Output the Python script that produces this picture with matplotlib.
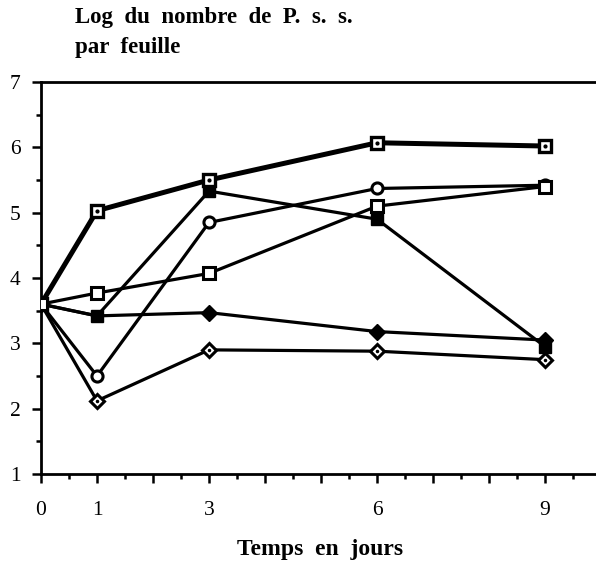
import matplotlib
matplotlib.use("Agg")
import matplotlib.pyplot as plt
import numpy as np

plt.rcParams['font.family'] = ['Liberation Serif', 'DejaVu Serif']

days = [0, 1, 3, 6, 9]
serie_a = [3.6, 5.03, 5.5, 6.07, 6.02]   # thick, dotted square
serie_b = [3.6, 3.42, 5.33, 4.9, 2.95]   # filled square
serie_c = [3.6, 2.5, 4.85, 5.37, 5.42]   # open circle
serie_d = [3.6, 3.77, 4.07, 5.1, 5.4]    # open square
serie_e = [3.6, 3.42, 3.47, 3.18, 3.05]  # filled diamond
serie_f = [3.6, 2.12, 2.9, 2.88, 2.75]   # dotted diamond

x_labels = {0: "0", 1: "1", 3: "3", 6: "6", 9: "9"}
y_ticks = [1, 2, 3, 4, 5, 6, 7]

fig = plt.figure(figsize=(5.96, 5.61), dpi=100)
ax = fig.add_axes([41/596, (561-474)/561, 1 - 41/596, (474-82)/561])

lw = 2.3
ax.plot(days, serie_f, color='black', lw=lw, marker='D', ms=7, mfc='white', mec='black', mew=2.2, zorder=3)
ax.plot(days, serie_f, color='none', marker='.', ms=3, mfc='black', mec='black', zorder=4)
ax.plot(days, serie_e, color='black', lw=lw, marker='D', ms=8.5, mfc='black', mec='black', markevery=[0, 2, 3, 4], zorder=3)
ax.plot(days, serie_c, color='black', lw=lw, marker='o', ms=8, mfc='white', mec='black', mew=2.2, zorder=3)
ax.plot(days, serie_b, color='black', lw=lw, marker='s', ms=9, mfc='black', mec='black', zorder=4)
ax.plot(days, serie_a, color='black', lw=3.6, marker='s', ms=9, mfc='white', mec='black', mew=2.4, zorder=5)
ax.plot(days, serie_a, color='none', marker='.', ms=4, mfc='black', mec='black', zorder=6)
ax.plot(days, serie_d, color='black', lw=lw, marker='s', ms=9, mfc='white', mec='black', mew=2.2, zorder=7)

ax.set_xlim(0, 9.91)
ax.set_ylim(1, 7)

ax.spines['right'].set_visible(False)
for s in ['left', 'bottom', 'top']:
    ax.spines[s].set_linewidth(2.0)

ax.set_xticks(np.arange(0, 10, 1))
ax.set_xticklabels([x_labels.get(i, "") for i in range(10)])
ax.set_xticks(np.arange(0.5, 10, 1), minor=True)
ax.set_yticks(y_ticks)
ax.set_yticks(np.arange(1.5, 7, 1), minor=True)

ax.tick_params(axis='both', which='major', direction='out', length=6.5, width=1.8, labelsize=15.5)
ax.tick_params(axis='both', which='minor', direction='out', length=3.5, width=1.8)
ax.tick_params(axis='x', which='major', pad=13)
ax.tick_params(axis='y', which='major', pad=8)

fig.text(75/596, 1 - 18/561, "Log  du  nombre  de  P.  s.  s.", fontsize=16.5, fontweight='bold', va='center', ha='left')
fig.text(75/596, 1 - 48/561, "par  feuille", fontsize=16.5, fontweight='bold', va='center', ha='left')
fig.text(320/596, 1 - 550/561, "Temps  en  jours", fontsize=17, fontweight='bold', va='center', ha='center')

fig.savefig("out.png", dpi=100)
